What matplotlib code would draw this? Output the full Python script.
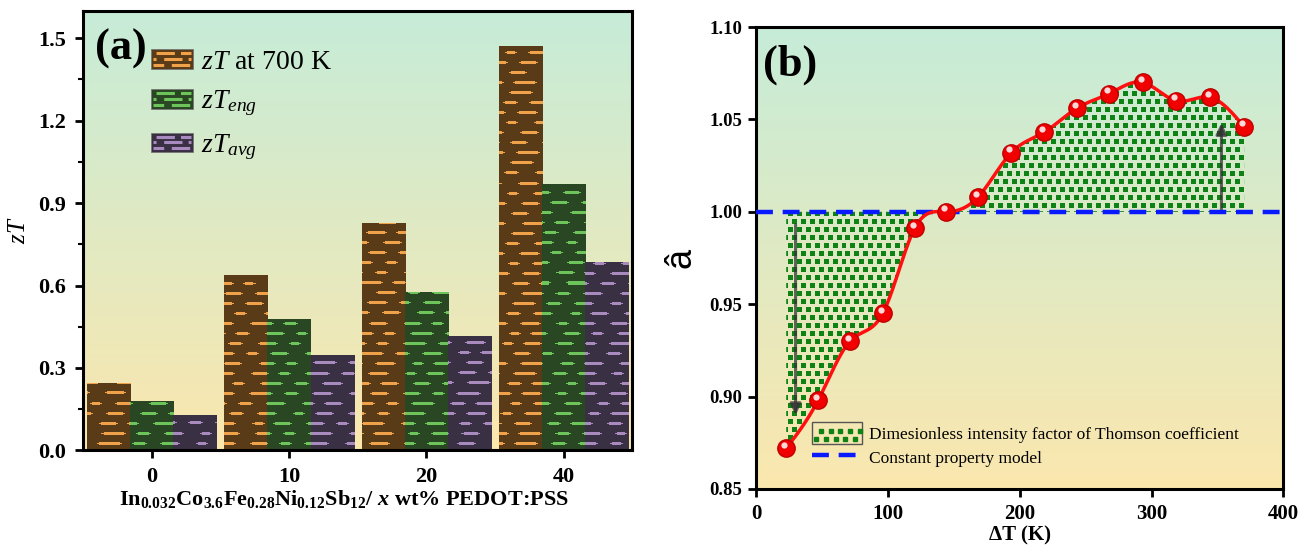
import numpy as np
import matplotlib
matplotlib.use('Agg')
import matplotlib.pyplot as plt
import matplotlib.transforms as mtransforms
from matplotlib.patches import Rectangle, Patch
from matplotlib.lines import Line2D
from matplotlib.legend_handler import HandlerBase

plt.rcParams['font.family'] = ['Liberation Serif', 'DejaVu Serif']
plt.rcParams['mathtext.fontset'] = 'custom'
plt.rcParams['mathtext.rm'] = 'Liberation Serif'
plt.rcParams['mathtext.it'] = 'Liberation Serif:italic'
plt.rcParams['mathtext.bf'] = 'Liberation Serif:bold'
plt.rcParams['mathtext.bfit'] = 'Liberation Serif:italic:bold'

# panel (a) data
groups = ['0', '10', '20', '40']
zt_700 = [0.245, 0.640, 0.826, 1.470]
zt_eng = [0.180, 0.479, 0.576, 0.968]
zt_avg = [0.128, 0.347, 0.415, 0.686]
series_labels = ['$zT$ at 700 K', '$zT_{eng}$', '$zT_{avg}$']

# panel (b) data
delta_t = [22.9, 47.1, 71.3, 96.1, 120.3, 143.9, 168.4, 193.6, 218.4,
           243.2, 268.0, 293.5, 318.9, 344.1, 370.2]
a_hat = [0.872, 0.898, 0.930, 0.945, 0.991, 1.000, 1.008, 1.032, 1.043,
         1.056, 1.064, 1.070, 1.060, 1.062, 1.046]
constant_model = 1.0
arrow_x = [30, 353]
arrow_from = [0.993, 1.001]
arrow_to = [0.890, 1.048]

top_col = np.array([0xc6, 0xec, 0xd8]) / 255
bot_col = np.array([0xfb, 0xe7, 0xae]) / 255
bar_cols = [('#5a3b17', '#f0a24a'), ('#2a4724', '#6cc45a'), ('#3a3044', '#a98abf')]
square_col = '#0e8214'


def gradient_bg(ax):
    t = np.linspace(0, 1, 256)[:, None]
    img = top_col[None, None, :] * (1 - t[..., None]) + bot_col[None, None, :] * t[..., None]
    ax.imshow(img, extent=(0, 1, 0, 1), transform=ax.transAxes, aspect='auto',
              interpolation='bicubic', zorder=0)


def dash_texture(h, w, dark, light):
    dark = np.array(matplotlib.colors.to_rgb(dark))
    light = np.array(matplotlib.colors.to_rgb(light))
    mask = np.zeros((h, w), bool)
    lens = [14, 9, 20, 11, 17, 8, 15]
    gaps = [16, 20, 13, 18, 15]
    for k, r in enumerate(range(2, h, 10)):
        x = -((k * 17) % 40)
        j = k
        while x < w:
            L = lens[j % len(lens)]
            mask[r:r + 3, max(x, 0):max(x + L, 0)] = True
            mask[r + 1:r + 2, max(x - 2, 0):max(x + L + 2, 0)] = True
            x += L + gaps[j % len(gaps)]
            j += 1
    return np.where(mask[..., None], light, dark)


def square_texture(h, w):
    img = np.zeros((h, w, 4))
    rgb = matplotlib.colors.to_rgb(square_col)
    for k, r in enumerate(range(0, h, 8)):
        off = 0 if k % 2 == 0 else 5
        for c in range(off, w, 9):
            img[r:r + 5, c:c + 5, :3] = rgb
            img[r:r + 5, c:c + 5, 3] = 1
    return img


def natural_spline(x, y, xs):
    x = np.asarray(x, float); y = np.asarray(y, float)
    n = len(x); h = np.diff(x)
    A = np.zeros((n, n)); r = np.zeros(n)
    A[0, 0] = A[-1, -1] = 1
    for i in range(1, n - 1):
        A[i, i - 1] = h[i - 1]; A[i, i] = 2 * (h[i - 1] + h[i]); A[i, i + 1] = h[i]
        r[i] = 3 * ((y[i + 1] - y[i]) / h[i] - (y[i] - y[i - 1]) / h[i - 1])
    c = np.linalg.solve(A, r)
    b = (y[1:] - y[:-1]) / h - h * (2 * c[:-1] + c[1:]) / 3
    d = (c[1:] - c[:-1]) / (3 * h)
    idx = np.clip(np.searchsorted(x, xs) - 1, 0, n - 2)
    dx = xs - x[idx]
    return y[idx] + b[idx] * dx + c[idx] * dx ** 2 + d[idx] * dx ** 3


class DashHandler(HandlerBase):
    def create_artists(self, legend, orig, xd, yd, width, height, fontsize, trans):
        dark, light = orig.dark, orig.light
        rect = Rectangle((-xd, -yd), width, height, facecolor=dark, edgecolor='#777777',
                         lw=0.6, transform=trans)
        arts = [rect]
        for k, f in enumerate([0.2, 0.5, 0.8]):
            yy = -yd + height * f
            ln = Line2D([-xd + 1, -xd + width - 1], [yy, yy], color=light, lw=2.2,
                        linestyle=(k * 2.5, (3.5, 2.5, 6, 2)), solid_capstyle='butt',
                        dash_capstyle='butt', transform=trans)
            arts.append(ln)
        return arts


class SquareHandler(HandlerBase):
    def create_artists(self, legend, orig, xd, yd, width, height, fontsize, trans):
        rect = Rectangle((-xd, -yd), width, height, facecolor='none', edgecolor='#555555',
                         lw=1.0, transform=trans)
        xs, ys = [], []
        for k, yy in enumerate(np.arange(-yd + 3, -yd + height - 1, 6)):
            off = 0 if k % 2 == 0 else 3.5
            for xx in np.arange(-xd + 3 + off, -xd + width - 1, 7):
                xs.append(xx); ys.append(yy)
        dots = Line2D(xs, ys, ls='none', marker='s', ms=3.3, color=square_col,
                      mec=square_col, transform=trans)
        return [rect, dots]


fig = plt.figure(figsize=(12.99, 5.48), dpi=100)
ax1 = fig.add_axes([0.0639, 0.178, 0.423, 0.8027])
ax2 = fig.add_axes([0.582, 0.1077, 0.4060, 0.843])

# ---------------- panel (a) ----------------
gradient_bg(ax1)
xpos = np.arange(len(groups))
w = 0.315
xl, yl = (-0.5, 3.5), (0, 1.6)
tex_h, tex_w = 440, 549
for i, vals in enumerate([zt_700, zt_eng, zt_avg]):
    dark, light = bar_cols[i]
    bars = ax1.bar(xpos + (i - 1) * w, vals, w, color=dark, edgecolor='none', zorder=2)
    tex = dash_texture(tex_h, tex_w, dark, light)
    for b in bars:
        im = ax1.imshow(tex, extent=(xl[0], xl[1], yl[0], yl[1]), aspect='auto',
                        interpolation='nearest', zorder=2.5)
        im.set_clip_path(b)
ax1.set_xlim(xl)
ax1.set_ylim(yl)
ax1.set_xticks(xpos)
ax1.set_xticklabels(groups)
ax1.set_yticks(np.arange(0, 1.51, 0.3))
ax1.set_yticks(np.arange(0.15, 1.6, 0.3), minor=True)
ax1.yaxis.set_major_formatter(matplotlib.ticker.FormatStrFormatter('%.1f'))
ax1.tick_params(axis='both', which='major', direction='out', length=6, width=2,
                labelsize=16, pad=6)
ax1.tick_params(axis='y', which='minor', direction='out', length=3.5, width=1.5)
ax1.tick_params(top=False, right=False)
for lab in ax1.get_xticklabels() + ax1.get_yticklabels():
    lab.set_fontweight('bold')
for s in ax1.spines.values():
    s.set_linewidth(2.2)
ax1.set_ylabel('$zT$', fontsize=18, labelpad=6)
ax1.set_xlabel(r'In$_{\mathbf{0.032}}$Co$_{\mathbf{3.6}}$Fe$_{\mathbf{0.28}}$'
               r'Ni$_{\mathbf{0.12}}$Sb$_{\mathbf{12}}$/ $\mathbfit{x}$ wt% PEDOT:PSS',
               fontsize=16, fontweight='bold', labelpad=2)
ax1.xaxis.set_label_coords(0.475, -0.085)
ax1.text(0.022, 0.913, '(a)', transform=ax1.transAxes, fontsize=32,
         fontweight='bold', va='center', ha='left')

handles = []
for dark, light in bar_cols:
    p = Patch(facecolor=dark)
    p.dark, p.light = dark, light
    handles.append(p)
ax1.legend(handles, series_labels, loc='upper left', bbox_to_anchor=(0.124, 0.912),
           frameon=False, fontsize=20, handlelength=1.5, handleheight=0.72,
           handletextpad=0.3, labelspacing=0.5, borderpad=0, borderaxespad=0,
           handler_map={Patch: DashHandler()})

# ---------------- panel (b) ----------------
gradient_bg(ax2)
xl2, yl2 = (0, 400), (0.85, 1.10)
xs = np.linspace(delta_t[0], delta_t[-1], 600)
ys = natural_spline(delta_t, a_hat, xs)
region = ax2.fill_between(xs, ys, constant_model, facecolor='none', edgecolor='none',
                          zorder=1)
sq = square_texture(462, 531)
im = ax2.imshow(sq, extent=(xl2[0], xl2[1], yl2[0], yl2[1]), aspect='auto',
                interpolation='nearest', zorder=1.5)
im.set_clip_path(region.get_paths()[0], ax2.transData)

for xa, y0, y1 in zip(arrow_x, arrow_from, arrow_to):
    ax2.annotate('', xy=(xa, y1), xytext=(xa, y0),
                 arrowprops=dict(arrowstyle='-|>', color='#333333', lw=2.2, alpha=0.75,
                                 mutation_scale=16, shrinkA=0, shrinkB=0), zorder=2)

ax2.axhline(constant_model, color='#0a1aff', lw=3.2, linestyle=(0, (3.8, 2.2)), zorder=3)
ax2.plot(xs, ys, color='#ff1010', lw=2.5, zorder=4)
ax2.plot(delta_t, a_hat, ls='none', marker='o', ms=12.5, color='#f00000',
         mec='#c00000', mew=1, zorder=5)
hl = mtransforms.offset_copy(ax2.transData, fig=fig, x=-1.5, y=2.5, units='points')
ax2.plot(delta_t, a_hat, ls='none', marker='o', ms=4.5, color='white', mec='none',
         alpha=0.85, transform=hl, zorder=6)

ax2.set_xlim(xl2)
ax2.set_ylim(yl2)
ax2.set_xticks(np.arange(0, 401, 100))
ax2.set_yticks(np.arange(0.85, 1.101, 0.05))
ax2.yaxis.set_major_formatter(matplotlib.ticker.FormatStrFormatter('%.2f'))
ax2.tick_params(axis='both', direction='out', length=6, width=2, pad=5)
ax2.tick_params(axis='x', labelsize=15)
ax2.tick_params(axis='y', labelsize=13.5, pad=4)
for lab in ax2.get_xticklabels() + ax2.get_yticklabels():
    lab.set_fontweight('bold')
for s in ax2.spines.values():
    s.set_linewidth(2.2)
ax2.set_ylabel('â', fontsize=26, family='Liberation Sans', labelpad=8)
ax2.set_xlabel('ΔT (K)', fontsize=15, fontweight='bold', labelpad=1)
ax2.text(0.013, 0.918, '(b)', transform=ax2.transAxes, fontsize=32,
         fontweight='bold', va='center', ha='left')

fill_handle = Patch(facecolor='none')
line_handle = Line2D([], [], color='#0a1aff', lw=3.2, linestyle=(0, (3.8, 2.2)))
ax2.legend([fill_handle, line_handle],
           ['Dimesionless intensity factor of Thomson coefficient', 'Constant property model'],
           loc='lower left', bbox_to_anchor=(0.106, 0.045), frameon=False, fontsize=12.5,
           handlelength=2.9, handleheight=1.5, handletextpad=0.4, labelspacing=0.2,
           borderpad=0, borderaxespad=0, handler_map={Patch: SquareHandler()})

fig.savefig('out.png', dpi=100)
